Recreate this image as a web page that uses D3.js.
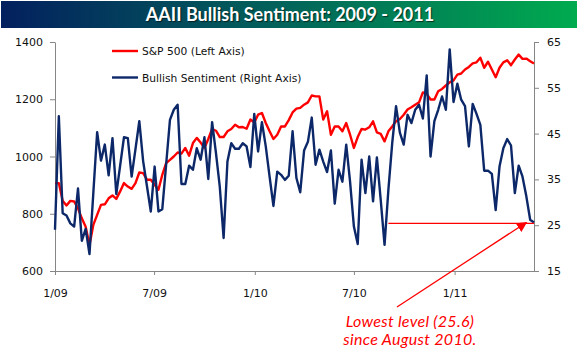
<!DOCTYPE html>
<html>
<head>
<meta charset="utf-8">
<script src="https://cdn.jsdelivr.net/npm/d3@7"></script>
<style>
  body { margin: 0; background: #fff; }
  svg { display: block; }
</style>
</head>
<body>
<div id="chart"></div>
<script>
var w = 578;
var h = 354;

// weekly readings, Thursdays 1/1/2009 - 5/26/2011
var spx = [
  907, 907, 845, 829, 845, 843, 819, 784, 755, 691,
  761, 796, 831, 833, 854, 864, 852, 878, 907, 895,
  887, 907, 944, 942, 919, 919, 901, 884, 936, 977,
  988, 1000, 1014, 1010, 1030, 1003, 1047, 1065, 1049, 1030,
  1061, 1096, 1090, 1068, 1068, 1088, 1096, 1111, 1102, 1103,
  1097, 1129, 1119, 1146, 1152, 1117, 1088, 1061, 1076, 1105,
  1105, 1127, 1154, 1167, 1170, 1181, 1189, 1213, 1210, 1210,
  1129, 1158, 1076, 1105, 1105, 1088, 1117, 1076, 1030, 1068,
  1096, 1094, 1102, 1123, 1084, 1079, 1053, 1088, 1105, 1123,
  1131, 1146, 1164, 1172, 1181, 1189, 1224, 1219, 1199, 1199,
  1228, 1236, 1248, 1259, 1266, 1286, 1290, 1304, 1313, 1325,
  1329, 1345, 1310, 1331, 1304, 1277, 1310, 1329, 1336, 1319,
  1339, 1356, 1341, 1342, 1333, 1325
];

var bullish = [
  24.0, 48.8, 27.6, 27.1, 25.4, 24.7, 33.0, 21.6, 24.2, 18.7,
  32.0, 45.3, 39.1, 42.6, 35.9, 44.0, 31.8, 38.0, 44.2, 44.0,
  35.6, 41.6, 47.7, 39.0, 33.5, 28.0, 37.8, 28.0, 28.5, 38.2,
  48.0, 50.2, 51.3, 34.0, 34.0, 38.0, 37.1, 41.8, 39.3, 44.2,
  35.1, 47.5, 40.8, 33.4, 22.2, 38.9, 42.9, 41.7, 41.7, 42.9,
  42.2, 37.7, 49.3, 41.1, 47.5, 42.2, 35.6, 29.2, 36.7, 36.0,
  34.9, 35.8, 45.5, 35.3, 32.2, 41.3, 43.2, 48.5, 38.2, 41.5,
  38.9, 36.6, 41.3, 29.7, 37.1, 34.5, 42.6, 34.5, 24.7, 20.9,
  39.3, 32.0, 40.0, 30.2, 39.8, 30.5, 20.7, 32.7, 42.9, 51.0,
  45.2, 42.6, 49.1, 47.3, 50.2, 51.3, 48.3, 57.7, 40.0, 47.7,
  50.2, 53.1, 50.2, 63.4, 51.9, 55.9, 52.4, 51.0, 42.2, 51.5,
  49.3, 46.9, 36.9, 36.9, 36.2, 28.3, 37.8, 41.8, 43.8, 42.4,
  32.0, 38.0, 35.6, 31.3, 26.2, 25.6
];

var leftTicks = [600, 800, 1000, 1200, 1400];
var rightTicks = [15, 25, 35, 45, 55, 65];
var xTickDates = ["2009-01-01", "2009-07-01", "2010-01-01", "2010-07-01", "2011-01-01"];
var xTickLabels = ["1/09", "7/09", "1/10", "7/10", "1/11"];

var title = "AAII Bullish Sentiment: 2009 - 2011";
var legendNames = ["S&P 500 (Left Axis)", "Bullish Sentiment (Right Axis)"];
var noteLines = ["Lowest level (25.6)", "since August 2010."];
var lowSince = 87;   // first week after the August 2010 low

var weeks = d3.timeThursday.range(new Date(2009, 0, 1), new Date(2011, 4, 27));
var parse = d3.timeParse("%Y-%m-%d");

var plotLeft = 55, plotRight = 534, plotTop = 42, plotBottom = 271;
var red = "#ff0000", navy = "#0c2869", axisGrey = "#868686";
var tickFont = "'DejaVu Sans', Verdana, sans-serif";

var xScale = d3.scaleTime()
               .domain([weeks[0], weeks[weeks.length - 1]])
               .range([plotLeft, plotRight]);

var yLeft = d3.scaleLinear()
              .domain([600, 1400])
              .range([plotBottom, plotTop]);

var yRight = d3.scaleLinear()
               .domain([15, 65])
               .range([plotBottom, plotTop]);

var svg = d3.select("#chart")
            .append("svg")
            .attr("width", w)
            .attr("height", h);

// title bar
var defs = svg.append("defs");
var grad = defs.append("linearGradient")
               .attr("id", "bar")
               .attr("x1", "0%").attr("x2", "100%");
grad.append("stop").attr("offset", "0%").attr("stop-color", "#03205e");
grad.append("stop").attr("offset", "50%").attr("stop-color", "#02655a");
grad.append("stop").attr("offset", "100%").attr("stop-color", "#00ab4f");

svg.append("rect")
   .attr("x", 1).attr("y", 1)
   .attr("width", w - 2).attr("height", 27)
   .attr("fill", "url(#bar)");

svg.append("text")
   .attr("x", 290).attr("y", 21)
   .attr("text-anchor", "middle")
   .attr("font-family", "Lato, sans-serif")
   .attr("font-weight", "bold")
   .attr("font-size", "18px")
   .attr("fill", "#fff")
   .style("text-shadow", "1px 1px 1px rgba(0,0,0,0.6)")
   .text(title);

// axes
var xAxis = d3.axisBottom(xScale)
              .tickValues(xTickDates.map(parse))
              .tickFormat(function(d, i) { return xTickLabels[i]; })
              .tickSize(4)
              .tickSizeOuter(0)
              .tickPadding(14);

var leftAxis = d3.axisLeft(yLeft)
                 .tickValues(leftTicks)
                 .tickFormat(d3.format("d"))
                 .tickSize(5)
                 .tickSizeOuter(0)
                 .tickPadding(7);

var rightAxis = d3.axisRight(yRight)
                  .tickValues(rightTicks)
                  .tickFormat(d3.format("d"))
                  .tickSize(5)
                  .tickSizeOuter(0)
                  .tickPadding(8);

function styleAxis(g) {
  g.select(".domain").attr("stroke", axisGrey);
  g.selectAll(".tick line").attr("stroke", axisGrey);
  g.selectAll(".tick text")
   .attr("fill", "#111")
   .attr("font-family", tickFont)
   .attr("font-size", "11px");
}

svg.append("g")
   .attr("transform", "translate(0," + plotBottom + ")")
   .call(xAxis)
   .call(styleAxis);

svg.append("g")
   .attr("transform", "translate(" + plotLeft + ",0)")
   .call(leftAxis)
   .call(styleAxis);

svg.append("g")
   .attr("transform", "translate(" + plotRight + ",0)")
   .call(rightAxis)
   .call(styleAxis);

// lines
var spxLine = d3.line()
                .x(function(d, i) { return xScale(weeks[i]); })
                .y(function(d) { return yLeft(d); });

var bullLine = d3.line()
                 .x(function(d, i) { return xScale(weeks[i]); })
                 .y(function(d) { return yRight(d); });

svg.append("path")
   .datum(spx)
   .attr("d", spxLine)
   .attr("fill", "none")
   .attr("stroke", red)
   .attr("stroke-width", 2.4)
   .attr("stroke-linejoin", "round");

svg.append("path")
   .datum(bullish)
   .attr("d", bullLine)
   .attr("fill", "none")
   .attr("stroke", navy)
   .attr("stroke-width", 2.4)
   .attr("stroke-linejoin", "round");

// legend
var legend = svg.append("g").attr("transform", "translate(112,51)");
legend.selectAll("line")
      .data([red, navy])
      .enter()
      .append("line")
      .attr("x1", 0).attr("x2", 26)
      .attr("y1", function(d, i) { return i * 26.5; })
      .attr("y2", function(d, i) { return i * 26.5; })
      .attr("stroke", function(d) { return d; })
      .attr("stroke-width", 2.4);
legend.selectAll("text")
      .data(legendNames)
      .enter()
      .append("text")
      .attr("x", 30)
      .attr("y", function(d, i) { return i * 26.5 + 4; })
      .attr("font-family", tickFont)
      .attr("font-size", "10.7px")
      .attr("fill", "#111")
      .text(function(d) { return d; });

// annotation
var last = bullish.length - 1;
var lowY = yRight(bullish[last]);

defs.append("marker")
    .attr("id", "head")
    .attr("viewBox", "0 0 10 10")
    .attr("refX", 9).attr("refY", 5)
    .attr("markerWidth", 8).attr("markerHeight", 8)
    .attr("orient", "auto")
    .append("path")
    .attr("d", "M0,0 L10,5 L0,10 z")
    .attr("fill", red);

svg.append("line")
   .attr("x1", xScale(weeks[lowSince])).attr("x2", xScale(weeks[last]))
   .attr("y1", lowY + 1).attr("y2", lowY + 1)
   .attr("stroke", red)
   .attr("stroke-width", 1.3);

svg.append("line")
   .attr("x1", 397).attr("y1", 307)
   .attr("x2", xScale(weeks[last - 2])).attr("y2", lowY)
   .attr("stroke", red)
   .attr("stroke-width", 1.3)
   .attr("marker-end", "url(#head)");

svg.append("g")
   .selectAll("text")
   .data(noteLines)
   .enter()
   .append("text")
   .attr("x", 410)
   .attr("y", function(d, i) { return 327 + i * 18; })
   .attr("text-anchor", "middle")
   .attr("font-family", "Lato, sans-serif")
   .attr("font-style", "italic")
   .attr("font-size", "16px")
   .attr("letter-spacing", "0.3px")
   .attr("fill", red)
   .text(function(d) { return d; });
</script>
</body>
</html>
